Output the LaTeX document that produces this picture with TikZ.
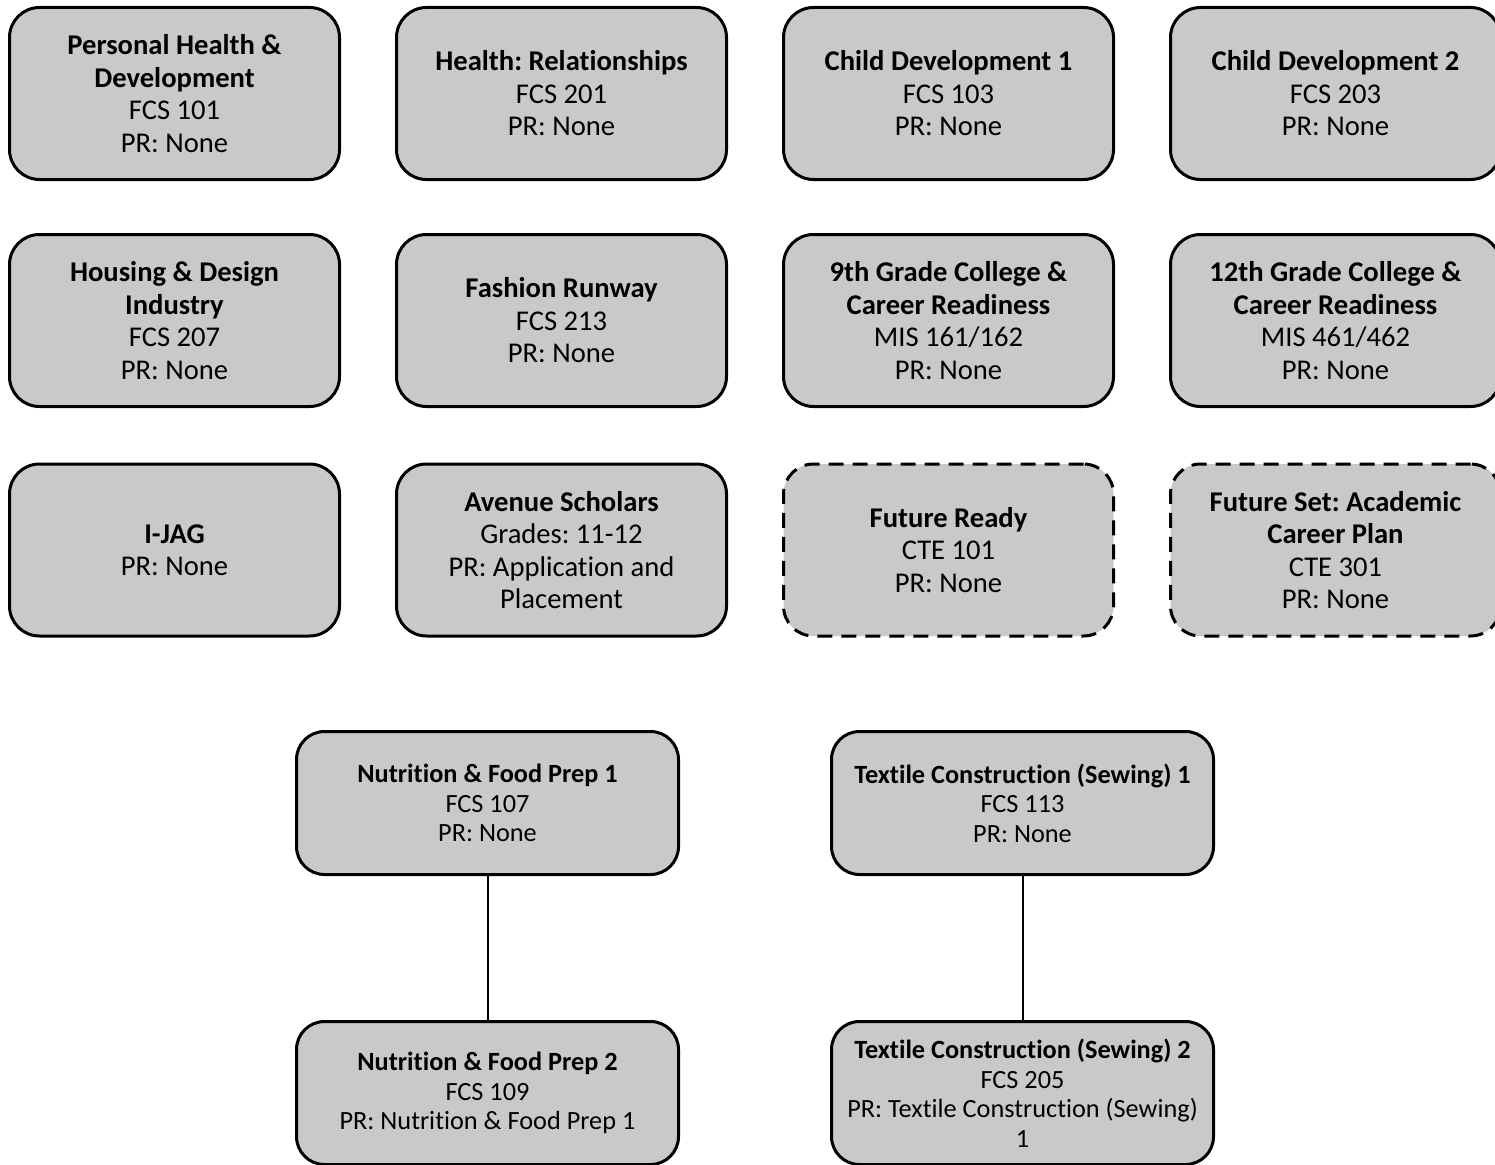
\documentclass[tikz,border=0pt]{standalone}
\usepackage{fontspec}
\setmainfont[Ligatures=NoCommon]{Carlito}
\frenchspacing
\definecolor{boxfill}{RGB}{201,201,201}
\tikzset{
  course/.style={draw=black, line width=3pt, fill=boxfill, rounded corners=30pt,
    minimum width=330pt, minimum height=172pt, align=center, inner sep=0pt,
    font=\fontsize{28.6}{32.5}\selectfont},
  optional/.style={course, dash pattern=on 15pt off 9pt},
  seq/.style={draw=black, line width=3pt, fill=boxfill, rounded corners=28pt,
    minimum width=382pt, minimum height=143pt, align=center, inner sep=0pt,
    font=\fontsize{26.3}{29.5}\selectfont},
  link/.style={draw=black, line width=2pt}
}
\begin{document}
\begin{tikzpicture}[x=1pt,y=-1pt]
\useasboundingbox (0,0) rectangle (1495,1164);
% row 1
\node[course] (pe) at (174.5,93.5) {\textbf{Personal Health \&}\\\textbf{Development}\\FCS 101\\PR: None};
\node[course] (hr) at (561.5,93.5) {\textbf{Health: Relationships}\\FCS 201\\PR: None};
\node[course] (cd1) at (948.5,93.5) {\textbf{Child Development 1}\\FCS 103\\PR: None};
\node[course] (cd2) at (1335.5,93.5) {\textbf{Child Development 2}\\FCS 203\\PR: None};
% row 2
\node[course] (hd) at (174.5,320.5) {\textbf{Housing \& Design}\\\textbf{Industry}\\FCS 207\\PR: None};
\node[course] (fr) at (561.5,320.5) {\textbf{Fashion Runway}\\FCS 213\\PR: None};
\node[course] (g9) at (948.5,320.5) {\textbf{9th Grade College \&}\\\textbf{Career Readiness}\\MIS 161/162\\PR: None};
\node[course] (g12) at (1335.5,320.5) {\textbf{12th Grade College \&}\\\textbf{Career Readiness}\\MIS 461/462\\PR: None};
% row 3
\node[course] (ijag) at (174.5,550) {\textbf{I-JAG}\\PR: None};
\node[course] (av) at (561.5,550) {\textbf{Avenue Scholars}\\Grades: 11-12\\PR: Application and\\Placement};
\node[optional] (fre) at (948.5,550) {\textbf{Future Ready}\\CTE 101\\PR: None};
\node[optional] (fs) at (1335.5,550) {\textbf{Future Set: Academic}\\\textbf{Career Plan}\\CTE 301\\PR: None};
% sequences
\node[seq] (nf1) at (487.5,803) {\textbf{Nutrition \& Food Prep 1}\\FCS 107\\PR: None};
\node[seq] (nf2) at (487.5,1093) {\textbf{Nutrition \& Food Prep 2}\\FCS 109\\PR: Nutrition \& Food Prep 1};
\node[seq] (tc1) at (1022.5,803) {\textbf{Textile Construction (Sewing) 1}\\FCS 113\\PR: None};
\node[seq] (tc2) at (1022.5,1093) {\textbf{Textile Construction (Sewing) 2}\\FCS 205\\PR: Textile Construction (Sewing)\\1};
\draw[link] (nf1) -- (nf2);
\draw[link] (tc1) -- (tc2);
\end{tikzpicture}
\end{document}
